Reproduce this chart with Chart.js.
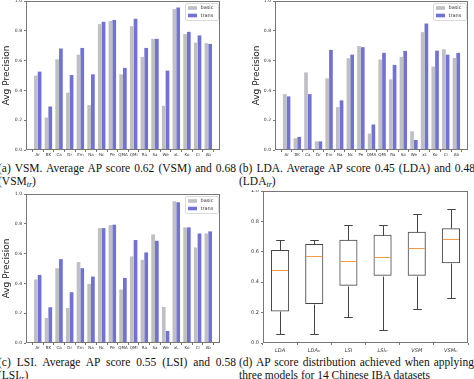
<!DOCTYPE html>
<html><head><meta charset="utf-8">
<script src="https://cdn.jsdelivr.net/npm/chart.js@4.4.1/dist/chart.umd.min.js"></script>
<style>
html,body{margin:0;padding:0;background:#fff;}
body{width:474px;height:379px;position:relative;overflow:hidden;}
.pane{position:absolute;}
.cap{position:absolute;font-family:"Liberation Serif","DejaVu Serif",serif;font-size:11.5px;line-height:13px;height:13px;white-space:nowrap;color:#111;}
.j{text-align:justify;text-align-last:justify;}
.cap sub{font-size:8px;font-style:italic;vertical-align:-2px;line-height:0;}
</style></head><body>
<div class="pane" style="left:0;top:0;width:237px;height:160px"><canvas id="ca"></canvas></div>
<div class="pane" style="left:237px;top:0;width:237px;height:160px"><canvas id="cb"></canvas></div>
<div class="pane" style="left:0;top:190px;width:237px;height:165px"><canvas id="cc"></canvas></div>
<div class="pane" style="left:237px;top:190px;width:237px;height:165px"><canvas id="cd"></canvas></div>

<div class="cap j" style="left:-2px;top:162px;width:238px">(a) VSM. Average AP score 0.62 (VSM) and 0.68</div>
<div class="cap" style="left:-2px;top:175px">(VSM<sub>tr</sub>)</div>
<div class="cap j" style="left:239px;top:162px;width:236px">(b) LDA. Average AP score 0.45 (LDA) and 0.48</div>
<div class="cap" style="left:239px;top:175px">(LDA<sub>tr</sub>)</div>
<div class="cap j" style="left:-2px;top:356px;width:238px">(c) LSI. Average AP score 0.55 (LSI) and 0.58</div>
<div class="cap" style="left:-2px;top:369px">(LSI<sub>tr</sub>)</div>
<div class="cap j" style="left:239px;top:356px;width:235px">(d) AP score distribution achieved when applying</div>
<div class="cap" style="left:239px;top:369px">three models for 14 Chinese IBA datasets</div>

<script>
// ---- data ----
const categories = ['Ar','BK','Ca','Dr','Em','Na','Nc','Pe','QMA','QMi','Ra','Sa','We','xL','Ko','Ci','Ab'];
const vsmBasic = [0.499,0.218,0.609,0.384,0.640,0.301,0.845,0.865,0.508,0.831,0.625,0.746,0.297,0.946,0.778,0.721,0.717];
const vsmTrans = [0.526,0.292,0.681,0.503,0.685,0.508,0.861,0.872,0.551,0.881,0.685,0.746,0.533,0.957,0.793,0.769,0.712];
const ldaBasic = [0.375,0.079,0.521,0.058,0.481,0.288,0.616,0.697,0.110,0.607,0.474,0.625,0.126,0.791,0.560,0.676,0.618];
const ldaTrans = [0.360,0.088,0.375,0.058,0.672,0.333,0.640,0.690,0.171,0.652,0.571,0.665,0.067,0.849,0.667,0.640,0.652];
const lsiBasic = [0.426,0.168,0.502,0.235,0.543,0.397,0.771,0.791,0.359,0.581,0.558,0.729,0.242,0.951,0.776,0.641,0.735];
const lsiTrans = [0.457,0.240,0.563,0.341,0.502,0.446,0.771,0.794,0.437,0.691,0.608,0.686,0.081,0.944,0.776,0.735,0.749];
const seriesNames = ['basic','trans'];
const yTicks = [0.0,0.2,0.4,0.6,0.8,1.0];
const boxLabels = ['LDA','LDA\u209C\u1D63','LSI','LSI\u209C\u1D63','VSM','VSM\u209C\u1D63'];
const boxLow    = [0.061,0.061,0.171,0.083,0.223,0.293];
const boxQ1     = [0.208,0.256,0.376,0.442,0.442,0.525];
const boxMedian = [0.482,0.570,0.541,0.564,0.623,0.686];
const boxQ3     = [0.612,0.651,0.680,0.712,0.732,0.755];
const boxHigh   = [0.678,0.676,0.774,0.774,0.847,0.882];

const FONT = '"DejaVu Sans"';
const BASIC = '#bfbfc6', TRANS = '#7272d4', AXIS = '#777';

const frame = {id:'frame', afterDatasetsDraw(c){
  const {ctx, chartArea:a} = c;
  ctx.save(); ctx.strokeStyle = AXIS; ctx.lineWidth = 1;
  ctx.strokeRect(Math.round(a.left)+0.5, Math.round(a.top)+0.5, Math.round(a.width)-1, Math.round(a.height)-1);
  ctx.restore();
}};

const legendIn = {id:'legendIn', afterDatasetsDraw(c){
  const a = c.chartArea, ctx = c.ctx;
  const w = 33, h = 17, x = a.right - 2 - w, y = a.top + 2;
  ctx.save();
  ctx.beginPath(); ctx.roundRect(x+0.5, y+0.5, w, h, 1.5);
  ctx.fillStyle = 'rgba(255,255,255,0.85)'; ctx.fill();
  ctx.strokeStyle = '#d0d0d0'; ctx.lineWidth = 0.8; ctx.stroke();
  c.data.datasets.forEach((d,i) => {
    const ry = y + 5 + i*7.5;
    ctx.fillStyle = d.backgroundColor; ctx.fillRect(x+3, ry-1.8, 9, 3.6);
    ctx.fillStyle = '#333'; ctx.font = '5px ' + FONT; ctx.textBaseline = 'middle';
    ctx.fillText(d.label, x+15.5, ry);
  });
  ctx.restore();
}};

function fixPad(s){ s.paddingTop = 0; s.paddingBottom = 0; s.paddingLeft = 0; s.paddingRight = 0; }

function barChart(id, basic, trans, opt){
  new Chart(document.getElementById(id), {
    type: 'bar',
    data: { datasets: [
      {label: seriesNames[0], data: basic.map((v,i)=>({x:i,y:v})), backgroundColor: BASIC, borderWidth: 0},
      {label: seriesNames[1], data: trans.map((v,i)=>({x:i,y:v})), backgroundColor: TRANS, borderWidth: 0}
    ]},
    options: {
      responsive: true, maintainAspectRatio: false, animation: false,
      categoryPercentage: 0.7, barPercentage: 1.0,
      layout: {padding: opt.pad},
      plugins: {legend: {display:false}, tooltip: {enabled:false}},
      scales: {
        x: { type: 'linear', min: -1.1, max: 17.1, offset: false,
          afterBuildTicks: s => { s.ticks = categories.map((_,i)=>({value:i})); },
          afterFit: s => { s.height = opt.xh; fixPad(s); },
          ticks: { autoSkip: false, maxRotation: 0, padding: 1, color: '#333', font: {family: FONT, size: 4},
                   callback: v => categories[v] },
          grid: { drawOnChartArea: false, drawTicks: true, tickLength: 2, color: AXIS },
          border: { display: false } },
        y: { min: 0, max: 1,
          afterBuildTicks: s => { s.ticks = yTicks.map(v=>({value:v})); },
          afterFit: s => { s.width = opt.yw; fixPad(s); },
          ticks: { padding: 2, color: '#333', font: {family: FONT, size: 4.5}, callback: v => Number(v).toFixed(1) },
          grid: { drawOnChartArea: false, drawTicks: true, tickLength: 2, color: AXIS },
          border: { display: false },
          title: { display: true, text: 'Avg Precision', color: '#222', font: {family: FONT, size: 9}, padding: {top: 1.5, bottom: 0} } }
      }
    },
    plugins: [frame, legendIn]
  });
}

barChart('ca', vsmBasic, vsmTrans, {pad:{left:0, top:1, right:17, bottom:0}, xh:10, yw:26});
barChart('cb', ldaBasic, ldaTrans, {pad:{left:13, top:1, right:6, bottom:0}, xh:10, yw:25});
barChart('cc', lsiBasic, lsiTrans, {pad:{left:0, top:4, right:17, bottom:0}, xh:12, yw:26});

const whiskers = {id:'whiskers', afterDatasetsDraw(c){
  const y = c.scales.y, ctx = c.ctx, meta = c.getDatasetMeta(0);
  const r = v => Math.round(v) + 0.5;
  const line = (x1,y1,x2,y2) => { ctx.beginPath(); ctx.moveTo(x1,y1); ctx.lineTo(x2,y2); ctx.stroke(); };
  ctx.save(); ctx.lineWidth = 1;
  boxLabels.forEach((_,i) => {
    const bar = meta.data[i];
    const cx = r(bar.x), hw = bar.width/2, cap = hw*0.47;
    const p = v => r(y.getPixelForValue(v));
    ctx.strokeStyle = '#444';
    line(cx, p(boxQ3[i]), cx, p(boxHigh[i]));
    line(cx, p(boxQ1[i]), cx, p(boxLow[i]));
    line(cx-cap, p(boxHigh[i]), cx+cap, p(boxHigh[i]));
    line(cx-cap, p(boxLow[i]), cx+cap, p(boxLow[i]));
    ctx.strokeStyle = '#f59a45';
    line(bar.x-hw+1, p(boxMedian[i]), bar.x+hw-1, p(boxMedian[i]));
  });
  ctx.restore();
}};

new Chart(document.getElementById('cd'), {
  type: 'bar',
  data: { labels: boxLabels, datasets: [
    {label: 'IQR', data: boxQ1.map((q,i)=>[q, boxQ3[i]]), backgroundColor: 'rgba(255,255,255,0)',
     borderColor: '#444', borderWidth: 1, borderSkipped: false}
  ]},
  options: {
    responsive: true, maintainAspectRatio: false, animation: false,
    categoryPercentage: 0.53, barPercentage: 1.0,
    layout: {padding: {left:0, top:1, right:6, bottom:0}},
    plugins: {legend: {display:false}, tooltip: {enabled:false}},
    scales: {
      x: { afterFit: s => { s.height = 12; fixPad(s); },
        ticks: { autoSkip: false, maxRotation: 0, padding: 3, color: '#333', font: {family: FONT, size: 5, style: 'italic'} },
        grid: { drawOnChartArea: false, drawTicks: true, tickLength: 2, color: AXIS },
        border: { display: false } },
      y: { min: 0, max: 1,
        afterBuildTicks: s => { s.ticks = yTicks.map(v=>({value:v})); },
        afterFit: s => { s.width = 26; fixPad(s); },
        ticks: { padding: 2, color: '#333', font: {family: FONT, size: 5}, callback: v => Number(v).toFixed(1) },
        grid: { drawOnChartArea: false, drawTicks: true, tickLength: 2, color: AXIS },
        border: { display: false } }
    }
  },
  plugins: [frame, whiskers]
});
</script>
</body></html>
